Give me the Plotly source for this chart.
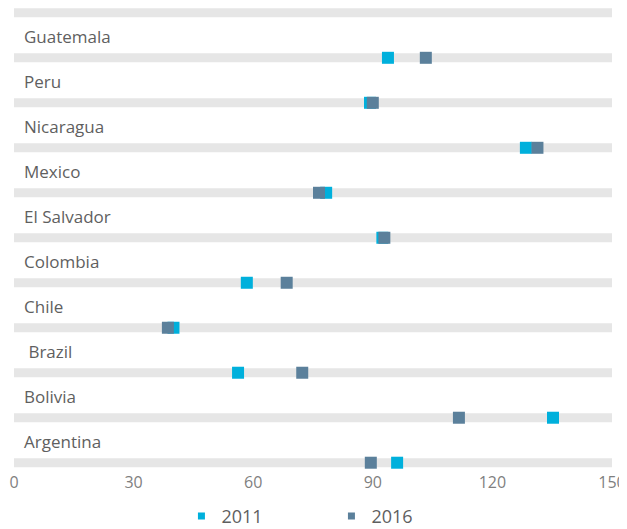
import plotly.graph_objects as go

countries = ["Argentina", "Bolivia", "Brazil", "Chile", "Colombia",
             "El Salvador", "Mexico", "Nicaragua", "Peru", "Guatemala"]
values_2011 = [96.1, 135.2, 56.2, 40.0, 58.4, 92.4, 78.3, 128.4, 89.3, 93.8]
values_2016 = [89.5, 111.6, 72.3, 38.6, 68.4, 92.9, 76.5, 131.3, 90.0, 103.3]
x_ticks = [0, 30, 60, 90, 120, 150]
x_max = 150

# rows: one per country plus an empty band on top
rows = list(range(len(countries) + 1))
label_texts = ["\u00a0" + c if c == "Brazil" else c for c in countries]

C2011 = "#00B0DC"
C2016 = "#5B809B"
BAND = "#E6E6E6"

fig = go.Figure()

fig.add_trace(go.Bar(
    x=[x_max] * len(rows), y=rows, orientation="h", width=0.2,
    marker=dict(color=BAND, line=dict(width=0)),
    showlegend=False, hoverinfo="skip",
))

fig.add_trace(go.Scatter(
    x=values_2011, y=list(range(len(countries))), mode="markers",
    marker=dict(symbol="square", size=12, color=C2011, line=dict(width=0)),
    name="2011", showlegend=False,
))
fig.add_trace(go.Scatter(
    x=values_2016, y=list(range(len(countries))), mode="markers",
    marker=dict(symbol="square", size=12, color=C2016, line=dict(width=0)),
    name="2016", showlegend=False,
))

# legend entries
fig.add_trace(go.Scatter(
    x=[None], y=[None], mode="markers",
    marker=dict(symbol="square", size=7, color=C2011), name="2011",
))
fig.add_trace(go.Scatter(
    x=[None], y=[None], mode="markers",
    marker=dict(symbol="square", size=7, color=C2016), name="2016",
))

for i, t in enumerate(label_texts):
    fig.add_annotation(
        x=2, y=i + 0.467, xref="x", yref="y", text=t, showarrow=False,
        xanchor="left", yanchor="middle",
        font=dict(family="Open Sans", size=17, color="#5F5F5F"),
    )

# page body has an 8px margin, so the figure is sized to fit the window
fig.update_layout(
    width=619, height=521,
    margin=dict(l=6, r=15, t=0, b=58, autoexpand=False),
    paper_bgcolor="white", plot_bgcolor="white",
    barmode="overlay",
    xaxis=dict(
        range=[0, x_max], tickvals=x_ticks, showgrid=False, zeroline=False,
        showline=False, ticks="", automargin=False,
        tickfont=dict(family="Open Sans", size=16, color="#7F7F7F"),
    ),
    yaxis=dict(
        range=[-0.184, 10.107], showgrid=False, zeroline=False,
        showline=False, showticklabels=False, ticks="", automargin=False,
    ),
    legend=dict(
        orientation="h", x=0.28, xanchor="left", y=-0.058, yanchor="top",
        font=dict(family="Open Sans", size=18, color="#5F5F5F"),
        entrywidth=105, entrywidthmode="pixels",
        bgcolor="rgba(0,0,0,0)",
    ),
)

fig.write_html("out.html")
